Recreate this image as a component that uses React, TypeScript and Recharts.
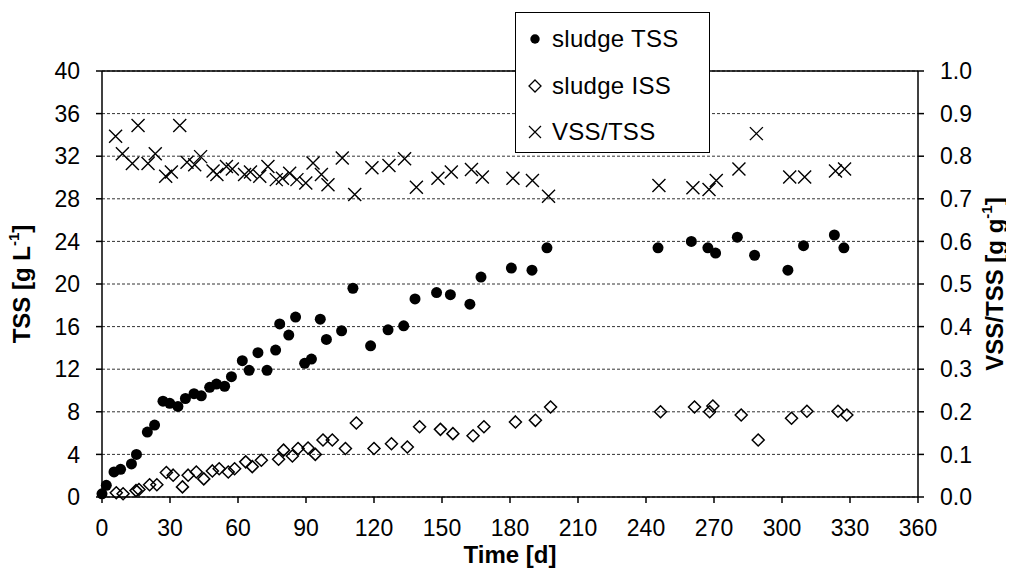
import React from 'react';
import { ScatterChart, Scatter, XAxis, YAxis, CartesianGrid, ReferenceLine } from 'recharts';

// sludge TSS [g/L] by day
const tssDays = [0, 1.9, 5.3, 8.2, 13, 15.2, 20, 23.2, 26.9, 29.9, 33.5, 36.8, 40.6, 43.8, 47.5, 50.5, 54.1, 57.1, 61.9, 64.9, 68.8, 72.8, 76.6, 78.4, 82.4, 85.4, 89.4, 92.4, 96.3, 99, 105.7, 110.7, 118.5, 126.2, 133.1, 138.1, 147.6, 153.7, 162.3, 167.2, 180.6, 189.7, 196.3, 245.3, 260, 267.3, 270.7, 280.3, 287.9, 302.6, 309.5, 323.1, 327.3];
const tssValues = [0.3, 1.1, 2.35, 2.6, 3.1, 4.0, 6.1, 6.75, 9.0, 8.8, 8.5, 9.25, 9.7, 9.5, 10.3, 10.6, 10.4, 11.3, 12.8, 11.9, 13.55, 11.9, 13.8, 16.25, 15.2, 16.9, 12.55, 12.95, 16.7, 14.8, 15.6, 19.6, 14.2, 15.7, 16.07, 18.6, 19.2, 19.0, 18.1, 20.65, 21.5, 21.3, 23.4, 23.4, 24.0, 23.4, 22.9, 24.4, 22.7, 21.3, 23.6, 24.6, 23.4];

// sludge ISS [g/L] by day
const issDays = [6.3, 9.3, 15, 16.3, 21, 24.2, 28.4, 31.4, 35.5, 38, 41.6, 44.9, 48.7, 51.7, 55.7, 58.5, 63.4, 66.3, 70.3, 77.9, 80.1, 84, 86.5, 90.9, 94.1, 97.5, 101.6, 107.4, 112.2, 120, 127.7, 134.7, 140.1, 149.3, 154.8, 163.7, 168.5, 182.4, 191.2, 197.9, 246.4, 261.4, 268.1, 269.5, 282, 289.5, 304.2, 311, 324.7, 328.6];
const issValues = [0.4, 0.3, 0.6, 0.7, 1.15, 1.15, 2.3, 2.05, 0.95, 2.05, 2.35, 1.7, 2.45, 2.65, 2.35, 2.65, 3.3, 2.85, 3.45, 3.55, 4.4, 3.85, 4.55, 4.6, 4.0, 5.35, 5.35, 4.55, 6.95, 4.55, 5.0, 4.7, 6.6, 6.35, 5.95, 5.75, 6.6, 7.05, 7.2, 8.45, 8.0, 8.45, 8.0, 8.55, 7.7, 5.35, 7.4, 8.05, 8.05, 7.7];

// VSS/TSS ratio [g/g] by day
const ratioDays = [6, 9, 13.4, 15.9, 20.3, 23.5, 28.1, 30.6, 34.3, 37.5, 40.9, 43.5, 49, 50.7, 54.9, 57.5, 62.9, 65.5, 69.6, 73.2, 76.9, 79.6, 82.8, 86, 89.9, 93.1, 96.8, 99.7, 106, 111.5, 119.1, 126.6, 133.5, 138.7, 148.2, 154.1, 163, 167.8, 181.3, 189.9, 197, 245.7, 260.7, 267.8, 271, 281, 288.7, 303.4, 310, 323.6, 327.6];
const ratioValues = [0.847, 0.806, 0.783, 0.872, 0.783, 0.806, 0.753, 0.763, 0.872, 0.786, 0.78, 0.799, 0.765, 0.757, 0.776, 0.77, 0.757, 0.763, 0.753, 0.776, 0.745, 0.748, 0.76, 0.745, 0.737, 0.784, 0.757, 0.733, 0.796, 0.71, 0.773, 0.778, 0.794, 0.727, 0.748, 0.763, 0.769, 0.751, 0.748, 0.743, 0.706, 0.731, 0.726, 0.722, 0.743, 0.77, 0.853, 0.751, 0.751, 0.765, 0.77];

const dayTicks = [0, 30, 60, 90, 120, 150, 180, 210, 240, 270, 300, 330, 360];
const tssTicks = [0, 4, 8, 12, 16, 20, 24, 28, 32, 36, 40];
const ratioTicks = [0, 0.1, 0.2, 0.3, 0.4, 0.5, 0.6, 0.7, 0.8, 0.9, 1.0];

const tssData = tssDays.map((d, i) => ({ day: d, value: tssValues[i] }));
const issData = issDays.map((d, i) => ({ day: d, value: issValues[i] }));
const ratioData = ratioDays.map((d, i) => ({ day: d, value: ratioValues[i] }));

const FONT = '"Liberation Sans", Arial, sans-serif';
const tickStyle = { fontSize: 23, fill: '#000', fontFamily: FONT };
const axisStroke = { stroke: '#000', strokeWidth: 1.5 };

const Dot = (props: any) => <circle cx={props.cx} cy={props.cy} r={props.r ?? 5.5} fill="#000" />;

const Diamond = (props: any) => {
  const { cx, cy } = props;
  const s = props.s ?? 6;
  return <polygon points={`${cx},${cy - s} ${cx + s},${cy} ${cx},${cy + s} ${cx - s},${cy}`} fill="none" stroke="#000" strokeWidth={props.w ?? 1.5} />;
};

const Cross = (props: any) => {
  const { cx, cy } = props;
  const s = props.s ?? 6.5;
  return (
    <path d={`M${cx - s},${cy - s}L${cx + s},${cy + s}M${cx - s},${cy + s}L${cx + s},${cy - s}`} stroke="#000" strokeWidth={props.w ?? 1.4} fill="none" />
  );
};

const titleProps = { fontSize: 24, fontWeight: 'bold', fontFamily: FONT, fill: '#000', textAnchor: 'middle' as const };

const LeftTitle = ({ viewBox }: any) => {
  const x = viewBox.x + 24;
  const y = viewBox.y + viewBox.height / 2;
  return (
    <text x={x} y={y} transform={`rotate(-90 ${x} ${y})`} dominantBaseline="middle" {...titleProps}>
      TSS [g L<tspan dy={-9} fontSize={15}>-1</tspan><tspan dy={9}>]</tspan>
    </text>
  );
};

const RightTitle = ({ viewBox }: any) => {
  const x = viewBox.x + 79;
  const y = viewBox.y + viewBox.height / 2;
  return (
    <text x={x} y={y} transform={`rotate(-90 ${x} ${y})`} dominantBaseline="middle" {...titleProps}>
      VSS/TSS [g g<tspan dy={-9} fontSize={15}>-1</tspan><tspan dy={9}>]</tspan>
    </text>
  );
};

const BottomTitle = ({ viewBox }: any) => (
  <text x={viewBox.x + viewBox.width / 2} y={viewBox.y + 66} {...titleProps}>
    Time [d]
  </text>
);

const legendItems = [
  { name: 'sludge TSS', marker: <Dot cx={11} cy={11} r={4.7} /> },
  { name: 'sludge ISS', marker: <Diamond cx={11} cy={11} s={6} w={1.3} /> },
  { name: 'VSS/TSS', marker: <Cross cx={11} cy={11} s={6} w={1.2} /> },
];

export default function App() {
  return (
    <div style={{ margin: -8, position: 'relative', width: 1014, height: 577, background: '#fff' }}>
      <ScatterChart width={1014} height={577} margin={{ top: 71, right: 0, bottom: 0, left: 0 }}>
        <CartesianGrid yAxisId="left" vertical={false} stroke="#333" strokeDasharray="3 2" />
        <XAxis
          type="number"
          dataKey="day"
          domain={[0, 360]}
          ticks={dayTicks}
          height={80}
          tick={tickStyle}
          tickSize={6}
          tickMargin={17}
          axisLine={axisStroke}
          tickLine={axisStroke}
          label={<BottomTitle />}
        />
        <YAxis
          yAxisId="left"
          type="number"
          dataKey="value"
          domain={[0, 40]}
          ticks={tssTicks}
          width={102}
          tick={tickStyle}
          tickSize={6}
          tickMargin={16}
          axisLine={axisStroke}
          tickLine={axisStroke}
          label={<LeftTitle />}
        />
        <YAxis
          yAxisId="right"
          orientation="right"
          type="number"
          dataKey="value"
          domain={[0, 1]}
          ticks={ratioTicks}
          tickFormatter={(v: number) => v.toFixed(1)}
          width={96}
          tick={tickStyle}
          tickSize={6}
          tickMargin={16}
          axisLine={axisStroke}
          tickLine={axisStroke}
          label={<RightTitle />}
        />
        <ReferenceLine yAxisId="left" y={40} stroke="#000" strokeWidth={1.5} />
        <Scatter name="VSS/TSS" data={ratioData} yAxisId="right" shape={<Cross />} isAnimationActive={false} />
        <Scatter name="sludge ISS" data={issData} yAxisId="left" shape={<Diamond />} isAnimationActive={false} />
        <Scatter name="sludge TSS" data={tssData} yAxisId="left" shape={<Dot />} isAnimationActive={false} />
      </ScatterChart>
      <div
        style={{
          position: 'absolute',
          left: 515,
          top: 12,
          width: 195,
          height: 141,
          border: '1.5px solid #000',
          background: '#fff',
          fontFamily: FONT,
          fontSize: 24,
          boxSizing: 'border-box',
        }}
      >
        {legendItems.map(({ name, marker }, i) => (
          <div key={name} style={{ position: 'absolute', left: 8, top: 12 + i * 46.5, height: 28, display: 'flex', alignItems: 'center', whiteSpace: 'nowrap' }}>
            <svg width={22} height={22}>{marker}</svg>
            <span style={{ marginLeft: 6, letterSpacing: 0.3 }}>{name}</span>
          </div>
        ))}
      </div>
    </div>
  );
}
